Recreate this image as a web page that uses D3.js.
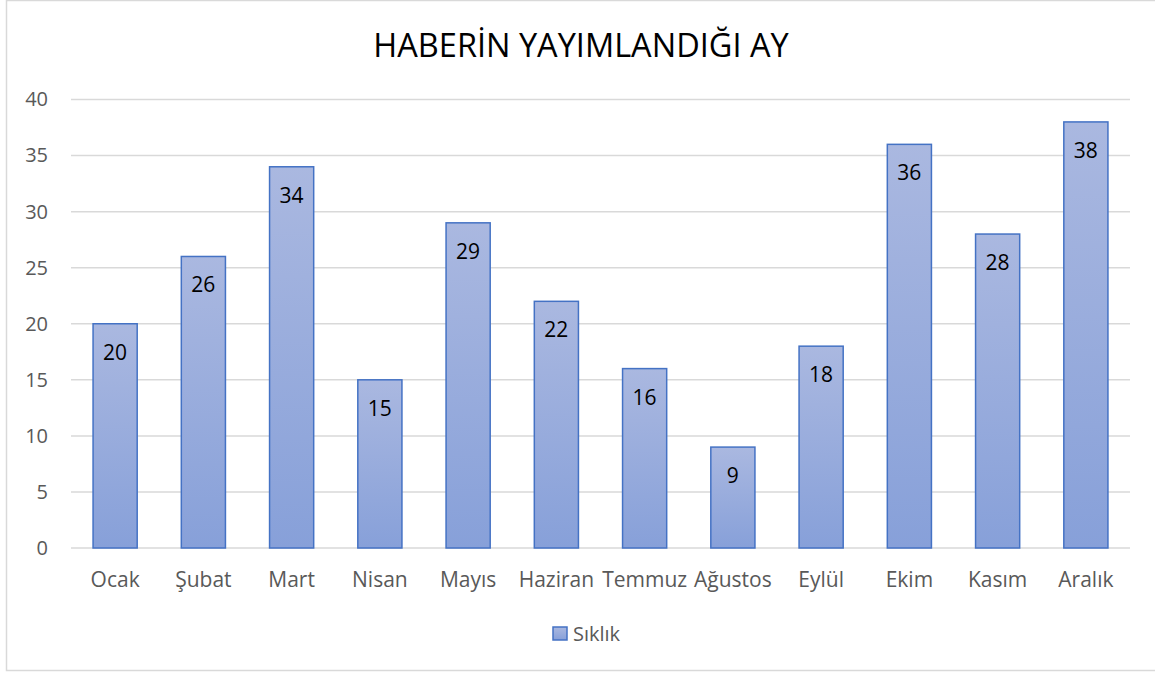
<!DOCTYPE html>
<html>
<head>
<meta charset="utf-8">
<script src="https://cdn.jsdelivr.net/npm/d3@7"></script>
<style>
  body { margin: 0; background: #fff; }
  svg { display: block; font-family: "Open Sans", "Noto Sans", sans-serif; }
</style>
</head>
<body>
<div id="chart"></div>
<script>
// data
var months = ["Ocak", "Şubat", "Mart", "Nisan", "Mayıs", "Haziran", "Temmuz",
  "Ağustos", "Eylül", "Ekim", "Kasım", "Aralık"];
var counts = [20, 26, 34, 15, 29, 22, 16, 9, 18, 36, 28, 38];
var yTicks = [0, 5, 10, 15, 20, 25, 30, 35, 40];
var seriesName = "Sıklık";
var title = "HABERİN YAYIMLANDIĞI AY";

var width = 1155, height = 673;
var plot = { left: 71, right: 1130, top: 99.5, bottom: 548 };
var labelFont = "'Open Sans', 'Noto Sans', sans-serif";

var svg = d3.select("#chart").append("svg")
  .attr("width", width)
  .attr("height", height);

// gradient for bars
var defs = svg.append("defs");
var grad = defs.append("linearGradient")
  .attr("id", "barfill")
  .attr("x1", 0).attr("y1", 0).attr("x2", 0).attr("y2", 1);
grad.append("stop").attr("offset", "0%").attr("stop-color", "#aab8e0");
grad.append("stop").attr("offset", "100%").attr("stop-color", "#87a0d9");

// chart border
svg.append("rect")
  .attr("x", 6.5).attr("y", 0.5)
  .attr("width", 1170).attr("height", 670)
  .attr("fill", "none")
  .attr("stroke", "#d9d9d9")
  .attr("stroke-width", 1.5);

var x = d3.scaleBand()
  .domain(months)
  .range([plot.left, plot.right])
  .paddingInner(0.5)
  .paddingOuter(0.25);

var y = d3.scaleLinear()
  .domain([0, 40])
  .range([plot.bottom, plot.top]);

// gridlines
svg.append("g")
  .selectAll("line")
  .data(yTicks)
  .enter().append("line")
  .attr("x1", plot.left).attr("x2", plot.right)
  .attr("y1", function(d) { return y(d); })
  .attr("y2", function(d) { return y(d); })
  .attr("stroke", "#d9d9d9")
  .attr("stroke-width", 1.5);

// y axis labels
var yAxis = d3.axisLeft(y).tickValues(yTicks).tickSize(0).tickPadding(0);
svg.append("g")
  .attr("transform", "translate(48,0)")
  .call(yAxis)
  .call(function(g) { g.select(".domain").remove(); })
  .selectAll("text")
  .attr("fill", "#595959")
  .style("font-size", "20px")
  .style("font-family", labelFont);

// bars
svg.append("g")
  .selectAll("rect")
  .data(counts)
  .enter().append("rect")
  .attr("x", function(d, i) { return x(months[i]); })
  .attr("y", function(d) { return y(d); })
  .attr("width", x.bandwidth())
  .attr("height", function(d) { return y(0) - y(d); })
  .attr("fill", "url(#barfill)")
  .attr("stroke", "#4472c4")
  .attr("stroke-width", 1.5);

// value labels
svg.append("g")
  .selectAll("text")
  .data(counts)
  .enter().append("text")
  .attr("x", function(d, i) { return x(months[i]) + x.bandwidth() / 2; })
  .attr("y", function(d) { return y(d) + 36; })
  .attr("text-anchor", "middle")
  .attr("fill", "#000")
  .style("font-size", "21px")
  .text(function(d) { return d; });

// x axis labels
var xAxis = d3.axisBottom(x).tickSize(0).tickPadding(0);
svg.append("g")
  .attr("transform", "translate(0," + (plot.bottom + 24) + ")")
  .call(xAxis)
  .call(function(g) { g.select(".domain").remove(); })
  .selectAll("text")
  .attr("fill", "#595959")
  .style("font-size", "21px")
  .style("font-family", labelFont);

// title
svg.append("text")
  .attr("x", 581)
  .attr("y", 57)
  .attr("text-anchor", "middle")
  .attr("fill", "#000")
  .style("font-size", "32.5px")
  .text(title);

// legend
var legend = svg.append("g").attr("transform", "translate(553,627)");
legend.append("rect")
  .attr("width", 14).attr("height", 13)
  .attr("fill", "url(#barfill)")
  .attr("stroke", "#4472c4")
  .attr("stroke-width", 1.5);
legend.append("text")
  .attr("x", 20).attr("y", 13.5)
  .attr("fill", "#595959")
  .style("font-size", "20px")
  .text(seriesName);
</script>
</body>
</html>
